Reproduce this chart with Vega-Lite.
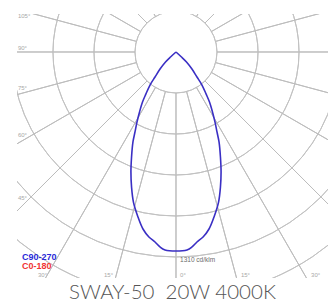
{
  "$schema": "https://vega.github.io/schema/vega-lite/v6.json",
  "width": 311,
  "height": 264,
  "padding": {"left": 17, "top": 12, "right": 0, "bottom": 0},
  "background": "white",
  "config": {"view": {"stroke": null}},
  "title": {"text": "SWAY-50\u00a0 20W 4000K", "orient": "bottom", "anchor": "middle", "font": "Lato", "fontSize": 20.5, "fontWeight": 300, "color": "#555555", "offset": 5, "baseline": "top"},
  "datasets": {
    "rings": [
      {"x": 0, "y": 0, "r": 262}, {"x": 0, "y": 0, "r": 524}, {"x": 0, "y": 0, "r": 786},
      {"x": 0, "y": 0, "r": 1048}, {"x": 0, "y": 0, "r": 1310}, {"x": 0, "y": 0, "r": 1572}, {"x": 0, "y": 0, "r": 1834}
    ],
    "spokes": [
      {"x": 0, "y": 0, "a": 0, "r0": 262, "r1": 2300}, {"x": 0, "y": 0, "a": 15, "r0": 262, "r1": 2300},
      {"x": 0, "y": 0, "a": 30, "r0": 262, "r1": 2300}, {"x": 0, "y": 0, "a": 45, "r0": 262, "r1": 2300},
      {"x": 0, "y": 0, "a": 60, "r0": 262, "r1": 2300}, {"x": 0, "y": 0, "a": 75, "r0": 262, "r1": 2300},
      {"x": 0, "y": 0, "a": 90, "r0": 262, "r1": 2300}, {"x": 0, "y": 0, "a": 105, "r0": 262, "r1": 2300},
      {"x": 0, "y": 0, "a": 120, "r0": 262, "r1": 2300}, {"x": 0, "y": 0, "a": 135, "r0": 262, "r1": 2300},
      {"x": 0, "y": 0, "a": 150, "r0": 262, "r1": 2300}, {"x": 0, "y": 0, "a": 165, "r0": 262, "r1": 2300},
      {"x": 0, "y": 0, "a": 180, "r0": 262, "r1": 2300}, {"x": 0, "y": 0, "a": 195, "r0": 262, "r1": 2300},
      {"x": 0, "y": 0, "a": 210, "r0": 262, "r1": 2300}, {"x": 0, "y": 0, "a": 225, "r0": 262, "r1": 2300},
      {"x": 0, "y": 0, "a": 240, "r0": 262, "r1": 2300}, {"x": 0, "y": 0, "a": 255, "r0": 262, "r1": 2300},
      {"x": 0, "y": 0, "a": 270, "r0": 262, "r1": 2300}, {"x": 0, "y": 0, "a": 285, "r0": 262, "r1": 2300},
      {"x": 0, "y": 0, "a": 300, "r0": 262, "r1": 2300}, {"x": 0, "y": 0, "a": 315, "r0": 262, "r1": 2300},
      {"x": 0, "y": 0, "a": 330, "r0": 262, "r1": 2300}, {"x": 0, "y": 0, "a": 345, "r0": 262, "r1": 2300}
    ],
    "curve": [
      {"i": 0, "x": 0, "y": 0}, {"i": 1, "x": -35, "y": -32}, {"i": 2, "x": -67, "y": -64},
      {"i": 3, "x": -102, "y": -109}, {"i": 4, "x": -134, "y": -160}, {"i": 5, "x": -166, "y": -211},
      {"i": 6, "x": -192, "y": -268}, {"i": 7, "x": -214, "y": -320}, {"i": 8, "x": -233, "y": -383},
      {"i": 9, "x": -249, "y": -447}, {"i": 10, "x": -262, "y": -511}, {"i": 11, "x": -275, "y": -575},
      {"i": 12, "x": -284, "y": -671}, {"i": 13, "x": -288, "y": -767}, {"i": 14, "x": -284, "y": -863},
      {"i": 15, "x": -272, "y": -959}, {"i": 16, "x": -243, "y": -1054}, {"i": 17, "x": -211, "y": -1131},
      {"i": 18, "x": -173, "y": -1182}, {"i": 19, "x": -134, "y": -1214}, {"i": 20, "x": -102, "y": -1246},
      {"i": 21, "x": -70, "y": -1265}, {"i": 22, "x": 0, "y": -1272},
      {"i": 23, "x": 70, "y": -1265}, {"i": 24, "x": 102, "y": -1246}, {"i": 25, "x": 134, "y": -1214},
      {"i": 26, "x": 173, "y": -1182}, {"i": 27, "x": 211, "y": -1131}, {"i": 28, "x": 243, "y": -1054},
      {"i": 29, "x": 272, "y": -959}, {"i": 30, "x": 284, "y": -863}, {"i": 31, "x": 288, "y": -767},
      {"i": 32, "x": 284, "y": -671}, {"i": 33, "x": 275, "y": -575}, {"i": 34, "x": 262, "y": -511},
      {"i": 35, "x": 249, "y": -447}, {"i": 36, "x": 233, "y": -383}, {"i": 37, "x": 214, "y": -320},
      {"i": 38, "x": 192, "y": -268}, {"i": 39, "x": 166, "y": -211}, {"i": 40, "x": 134, "y": -160},
      {"i": 41, "x": 102, "y": -109}, {"i": 42, "x": 67, "y": -64}, {"i": 43, "x": 35, "y": -32},
      {"i": 44, "x": 0, "y": 0}
    ],
    "anglelabels": [
      {"x": -1010, "y": 220, "t": "105°"},
      {"x": -1010, "y": 13, "t": "90°"},
      {"x": -1010, "y": -243, "t": "75°"},
      {"x": -1010, "y": -543, "t": "60°"},
      {"x": -1010, "y": -946, "t": "45°"},
      {"x": -882, "y": -1438, "t": "30°"},
      {"x": -460, "y": -1438, "t": "15°"},
      {"x": 26, "y": -1438, "t": "0°"},
      {"x": 415, "y": -1438, "t": "15°"},
      {"x": 863, "y": -1438, "t": "30°"}
    ],
    "unitlabel": [{"x": 26, "y": -1342, "t": "1310 cd/klm"}],
    "legend": [
      {"x": -984, "y": -1329, "t": "C90-270", "s": "C90-270"},
      {"x": -984, "y": -1386, "t": "C0-180", "s": "C0-180"}
    ]
  },
  "encoding": {
    "x": {"field": "x", "type": "quantitative", "scale": {"domain": [-1016, 971.3], "nice": false, "zero": false}, "axis": null},
    "y": {"field": "y", "type": "quantitative", "scale": {"domain": [-1444.2, 242.8], "nice": false, "zero": false}, "axis": null}
  },
  "layer": [
    {
      "data": {"name": "rings"},
      "mark": {"type": "arc", "theta": 0, "theta2": 6.2832, "filled": false, "color": "#c2c2c2", "strokeWidth": 1, "clip": true},
      "encoding": {
        "radius": {"field": "r", "type": "quantitative", "scale": {"type": "linear", "domain": [0, 1310], "range": [0, 205], "zero": true}, "legend": null},
        "radius2": {"field": "r"}
      }
    },
    {
      "data": {"name": "spokes"},
      "mark": {"type": "arc", "filled": false, "color": "#bdbdbd", "strokeWidth": 1, "clip": true},
      "encoding": {
        "theta": {"field": "a", "type": "quantitative", "stack": null, "scale": {"domain": [0, 360], "range": [0, 6.283185307]}, "legend": null},
        "theta2": {"field": "a"},
        "radius": {"field": "r0", "type": "quantitative", "scale": {"type": "linear", "domain": [0, 1310], "range": [0, 205], "zero": true}, "legend": null},
        "radius2": {"field": "r1"}
      }
    },
    {
      "data": {"name": "curve"},
      "mark": {"type": "line", "color": "#3a2fc4", "strokeWidth": 1.6, "interpolate": "catmull-rom", "clip": true},
      "encoding": {"order": {"field": "i", "type": "quantitative"}}
    },
    {
      "data": {"name": "anglelabels"},
      "mark": {"type": "text", "align": "left", "baseline": "alphabetic", "font": "Liberation Sans", "fontSize": 6, "color": "#a8a8a8"},
      "encoding": {"text": {"field": "t"}}
    },
    {
      "data": {"name": "unitlabel"},
      "mark": {"type": "text", "align": "left", "baseline": "alphabetic", "font": "Liberation Sans", "fontSize": 6.5, "color": "#6a6a6a"},
      "encoding": {"text": {"field": "t"}}
    },
    {
      "data": {"name": "legend"},
      "mark": {"type": "text", "align": "left", "baseline": "alphabetic", "font": "Liberation Sans", "fontSize": 9, "fontWeight": "bold"},
      "encoding": {
        "text": {"field": "t"},
        "color": {"field": "s", "type": "nominal", "scale": {"domain": ["C90-270", "C0-180"], "range": ["#2a2ad8", "#f03434"]}, "legend": null}
      }
    }
  ]
}
